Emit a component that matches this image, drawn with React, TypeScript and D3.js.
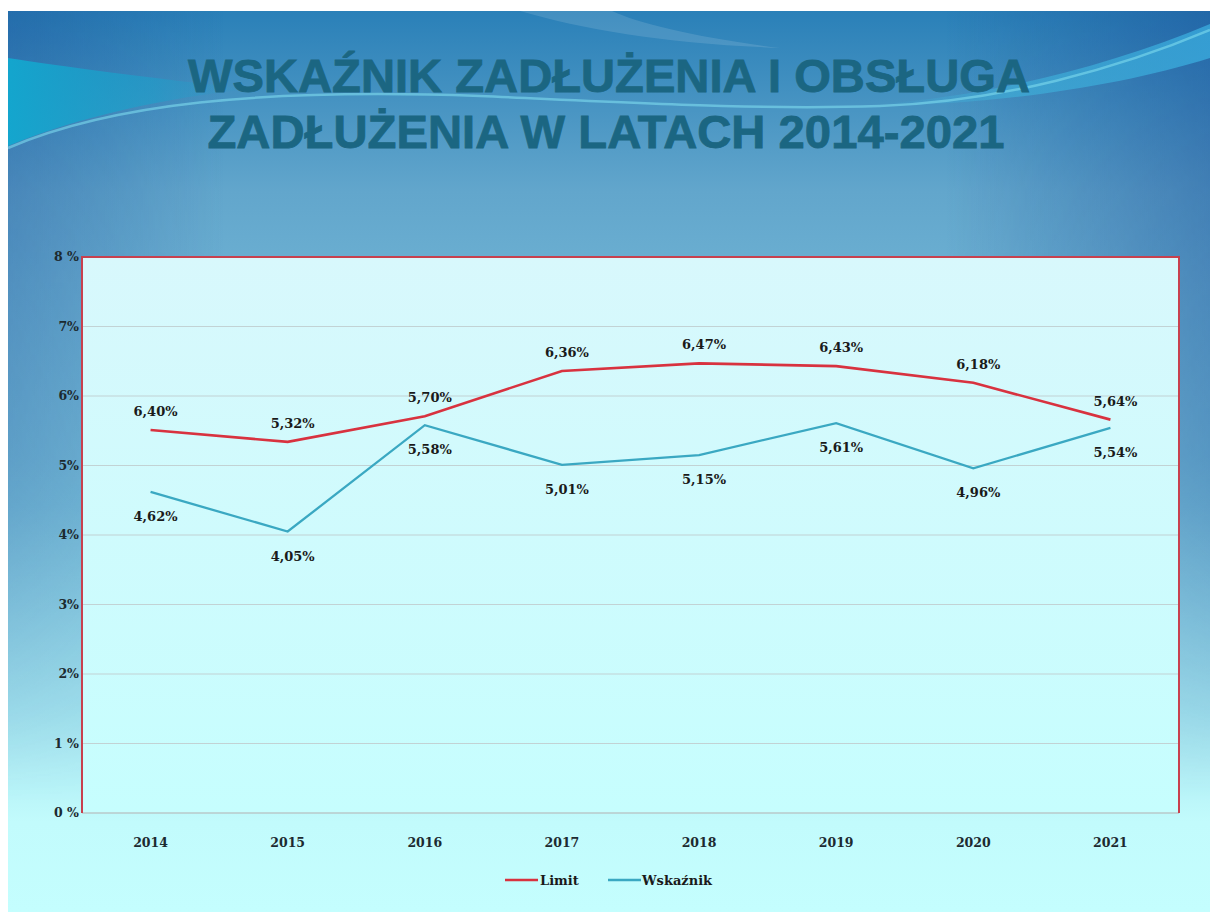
import React from "react";
import * as d3 from "d3";

const years = ["2014", "2015", "2016", "2017", "2018", "2019", "2020", "2021"];
// plotted positions of the "Limit" line (as drawn in the picture)
const limitValues = [5.51, 5.34, 5.71, 6.36, 6.47, 6.43, 6.19, 5.66];
// values printed as data labels for "Limit"
const limitLabelValues = [6.4, 5.32, 5.7, 6.36, 6.47, 6.43, 6.18, 5.64];
const wskaznikValues = [4.62, 4.05, 5.58, 5.01, 5.15, 5.61, 4.96, 5.54];
const yTickValues = [0, 1, 2, 3, 4, 5, 6, 7, 8];
const yTickLabels = ["0 %", "1 %", "2%", "3%", "4%", "5%", "6%", "7%", "8 %"];
const titleLines = ["WSKAŹNIK ZADŁUŻENIA I OBSŁUGA", "ZADŁUŻENIA W LATACH 2014-2021"];
const seriesNames = ["Limit", "Wskaźnik"];

const W = 1210;
const H = 912;
const plot = { left: 82, right: 1179, top: 257, bottom: 813 };
const LIMIT_COLOR = "#d8323f";
const WSK_COLOR = "#3aa8c2";
const LABEL_FONT = "'DejaVu Serif', 'Liberation Serif', serif";

const fmt = (v: number) => v.toFixed(2).replace(".", ",") + "%";

export default function App() {
  const x = d3.scaleBand<string>().domain(years).range([plot.left, plot.right]);
  const y = d3.scaleLinear().domain([0, 8]).range([plot.bottom, plot.top]);
  const cx = (i: number) => (x(years[i]) as number) + x.bandwidth() / 2;
  const line = d3
    .line<number>()
    .x((_, i) => cx(i))
    .y((d) => y(d));

  return (
    <svg
      width={W}
      height={H}
      style={{ position: "absolute", left: 0, top: 0, display: "block" }}
    >
      <defs>
        <linearGradient id="bg" x1="0" y1="0" x2="0" y2="1">
          <stop offset="0" stopColor="#2a80b8" />
          <stop offset="0.2" stopColor="#62a6cc" />
          <stop offset="0.3" stopColor="#6cb0d2" />
          <stop offset="0.55" stopColor="#7cc2dc" />
          <stop offset="0.78" stopColor="#a4e4ef" />
          <stop offset="0.9" stopColor="#c2fbfc" />
          <stop offset="1" stopColor="#c4fefe" />
        </linearGradient>
        <linearGradient id="edge" x1="0" y1="0" x2="1" y2="0">
          <stop offset="0" stopColor="#1a4f98" stopOpacity="0.4" />
          <stop offset="0.18" stopColor="#1a4f98" stopOpacity="0" />
          <stop offset="0.78" stopColor="#1a4f98" stopOpacity="0" />
          <stop offset="1" stopColor="#1a4f98" stopOpacity="0.5" />
        </linearGradient>
        <linearGradient id="edgeFade" x1="0" y1="0" x2="0" y2="1">
          <stop offset="0" stopColor="#fff" stopOpacity="1" />
          <stop offset="0.5" stopColor="#fff" stopOpacity="0.7" />
          <stop offset="0.88" stopColor="#fff" stopOpacity="0" />
        </linearGradient>
        <mask id="edgeMask">
          <rect x="0" y="0" width={W} height={H} fill="url(#edgeFade)" />
        </mask>
        <linearGradient id="swTL" x1="0" y1="0" x2="1" y2="0">
          <stop offset="0" stopColor="#12a8cf" stopOpacity="0.95" />
          <stop offset="0.6" stopColor="#1aa2cc" stopOpacity="0.55" />
          <stop offset="1" stopColor="#2a9ac8" stopOpacity="0" />
        </linearGradient>
        <linearGradient id="swTR" x1="0" y1="0" x2="1" y2="0">
          <stop offset="0" stopColor="#3fb6de" stopOpacity="0" />
          <stop offset="0.4" stopColor="#3fb6de" stopOpacity="0.55" />
          <stop offset="1" stopColor="#3aaee0" stopOpacity="0.75" />
        </linearGradient>
        <linearGradient id="plotBg" x1="0" y1="0" x2="0" y2="1">
          <stop offset="0" stopColor="#d8f8fc" />
          <stop offset="1" stopColor="#c6fefe" />
        </linearGradient>
      </defs>

      {/* page + slide background */}
      <rect x={0} y={0} width={W} height={H} fill="#ffffff" />
      <rect x={8} y={11} width={W - 8} height={H - 11} fill="url(#bg)" />
      <rect x={8} y={11} width={W - 8} height={H - 11} fill="url(#edge)" mask="url(#edgeMask)" />

      {/* decorative swooshes */}
      <path
        d="M8,58 C60,66 150,78 250,89 C170,97 80,116 8,146 Z"
        fill="url(#swTL)"
      />
      <path
        d="M880,104 C990,96 1110,66 1210,24 L1210,58 C1120,86 1000,104 880,106 Z"
        fill="url(#swTR)"
      />
      <path
        d="M8,148 C110,104 260,88 480,96 C640,103 760,110 880,106 C1000,102 1120,68 1210,30"
        fill="none"
        stroke="#7fdcee"
        strokeOpacity="0.6"
        strokeWidth="2.5"
      />
      <path
        d="M520,11 C585,30 670,44 780,48 C700,38 640,24 612,11 Z"
        fill="#ffffff"
        opacity="0.12"
      />

      {/* title */}
      {titleLines.map((t, i) => (
        <text
          key={t}
          x={i === 0 ? 609 : 606}
          y={i === 0 ? 92 : 148}
          textAnchor="middle"
          fontFamily="'Liberation Sans Narrow', 'Liberation Sans', Arial, sans-serif"
          fontWeight="bold"
          fontSize={47}
          fill="#1b6682"
          stroke="#1b6682"
          strokeWidth={0.8}
          textLength={i === 0 ? 842 : 797}
          lengthAdjust="spacingAndGlyphs"
        >
          {t}
        </text>
      ))}

      {/* plot area */}
      <rect
        x={plot.left}
        y={plot.top}
        width={plot.right - plot.left}
        height={plot.bottom - plot.top}
        fill="url(#plotBg)"
      />
      {yTickValues
        .filter((v) => v > 0 && v < 8)
        .map((v) => (
          <line
            key={v}
            x1={plot.left}
            x2={plot.right}
            y1={y(v)}
            y2={y(v)}
            stroke="#c2d2d4"
            strokeWidth={1.2}
          />
        ))}
      <line
        x1={plot.left}
        x2={plot.right}
        y1={y(0)}
        y2={y(0)}
        stroke="#b8c8ca"
        strokeWidth={1.5}
      />
      <path
        d={`M${plot.left},${plot.bottom} L${plot.left},${plot.top} L${plot.right},${plot.top} L${plot.right},${plot.bottom}`}
        fill="none"
        stroke="#c8404e"
        strokeWidth={2}
      />

      {/* y axis labels */}
      {yTickValues.map((v, i) => (
        <text
          key={v}
          x={79}
          y={y(v) + 4}
          textAnchor="end"
          fontFamily={LABEL_FONT}
          fontWeight="bold"
          fontSize={12.5}
          fill="#1c2a30"
        >
          {yTickLabels[i]}
        </text>
      ))}

      {/* x axis labels */}
      {years.map((yr, i) => (
        <text
          key={yr}
          x={cx(i)}
          y={847}
          textAnchor="middle"
          fontFamily={LABEL_FONT}
          fontWeight="bold"
          fontSize={12.5}
          fill="#1c2a30"
        >
          {yr}
        </text>
      ))}

      {/* lines */}
      <path d={line(limitValues) as string} fill="none" stroke={LIMIT_COLOR} strokeWidth={2.6} />
      <path d={line(wskaznikValues) as string} fill="none" stroke={WSK_COLOR} strokeWidth={2.3} />

      {/* data labels */}
      {limitValues.map((v, i) => (
        <text
          key={"l" + i}
          x={cx(i) + 5}
          y={y(v) - 14}
          textAnchor="middle"
          fontFamily={LABEL_FONT}
          fontWeight="bold"
          fontSize={13}
          fill="#1a1a1a"
        >
          {fmt(limitLabelValues[i])}
        </text>
      ))}
      {wskaznikValues.map((v, i) => (
        <text
          key={"w" + i}
          x={cx(i) + 5}
          y={y(v) + 29}
          textAnchor="middle"
          fontFamily={LABEL_FONT}
          fontWeight="bold"
          fontSize={13}
          fill="#1a1a1a"
        >
          {fmt(v)}
        </text>
      ))}

      {/* legend */}
      <line x1={505} x2={538} y1={880} y2={880} stroke={LIMIT_COLOR} strokeWidth={2.5} />
      <text x={540} y={885} fontFamily={LABEL_FONT} fontWeight="bold" fontSize={13} fill="#1a1a1a">
        {seriesNames[0]}
      </text>
      <line x1={608} x2={641} y1={880} y2={880} stroke={WSK_COLOR} strokeWidth={2.5} />
      <text x={642} y={885} fontFamily={LABEL_FONT} fontWeight="bold" fontSize={13} fill="#1a1a1a">
        {seriesNames[1]}
      </text>
    </svg>
  );
}
